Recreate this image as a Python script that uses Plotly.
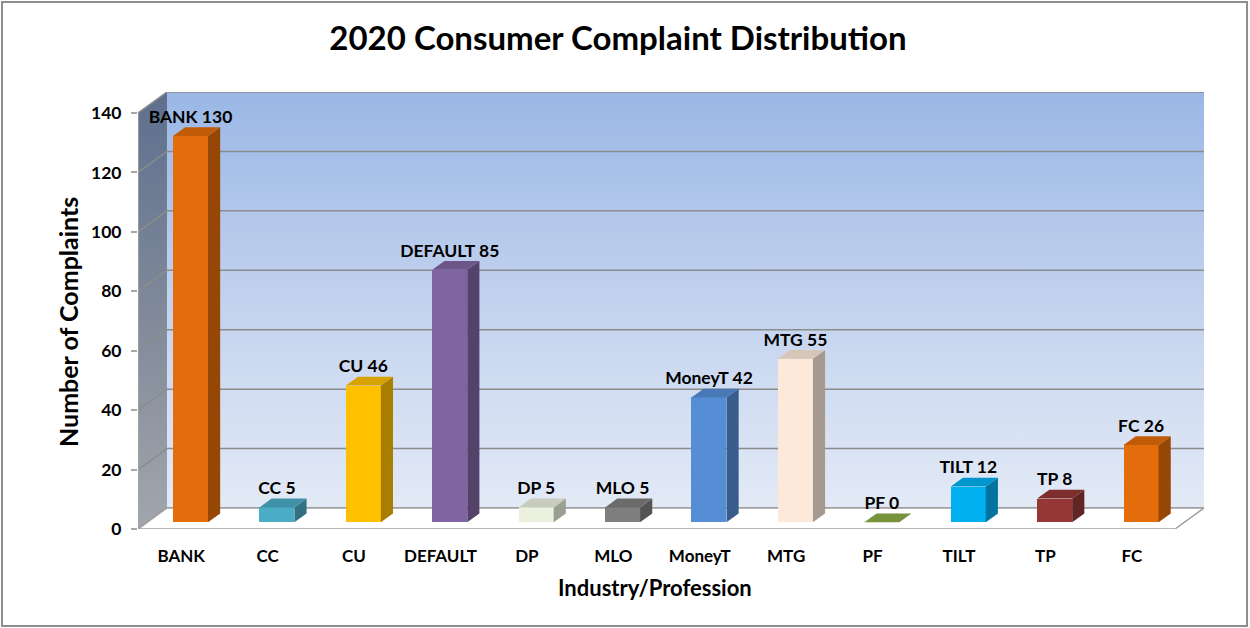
import plotly.graph_objects as go

# ---------------- data ----------------
categories = ["BANK", "CC", "CU", "DEFAULT", "DP", "MLO", "MoneyT", "MTG", "PF", "TILT", "TP", "FC"]
complaints = [130, 5, 46, 85, 5, 5, 42, 55, 0, 12, 8, 26]
bar_colors = ["#E46C0A", "#4BACC6", "#FFC000", "#8064A2", "#EBF1DE", "#7F7F7F",
              "#558ED5", "#FDE9D9", "#77933C", "#00B0F0", "#953735", "#E46C0A"]
y_ticks = [0, 20, 40, 60, 80, 100, 120, 140]

title_text = "2020 Consumer Complaint Distribution"
x_title = "Industry/Profession"
y_title = "Number of Complaints"

# ---------------- geometry / style ----------------
W, H = 1250, 628
L, R, T, B = 138, 46, 92, 99
PW, PH = W - L - R, H - T - B

DX = 0.3354          # wall depth in category units
DY = 7.07            # wall depth in value units
YMAX = y_ticks[-1]
N = len(categories)
X0, X1 = -0.5, N - 0.5
F1, F2 = 0.32, 0.74  # bar depth span (fraction of wall depth)
BW = 0.405           # bar width in category units

FONT = "Lato"
GRID = "#8C8C8C"


def shade(hexc, k):
    h = hexc.lstrip("#")
    r, g, b = (int(h[i:i + 2], 16) for i in (0, 2, 4))
    return "rgb(%d,%d,%d)" % (r * k, g * k, b * k)


def px_x(px):
    return (px - L) / PW


def px_y(py):
    return (H - B - py) / PH


fig = go.Figure()

# back wall (gradient)
fig.add_trace(go.Scatter(
    x=[X0 + DX, X1 + DX, X1 + DX, X0 + DX, X0 + DX],
    y=[DY, DY, YMAX + DY, YMAX + DY, DY],
    mode="lines", line=dict(width=0), fill="toself",
    fillgradient=dict(type="vertical",
                      colorscale=[[0, "#E3EAF6"], [0.5, "#C2D2EE"], [1, "#9AB7E5"]]),
    hoverinfo="skip", showlegend=False))

# left side wall (gradient)
fig.add_trace(go.Scatter(
    x=[X0, X0 + DX, X0 + DX, X0, X0],
    y=[0, DY, YMAX + DY, YMAX, 0],
    mode="lines", line=dict(width=0), fill="toself",
    fillgradient=dict(type="vertical",
                      colorscale=[[0, "#A2A6AD"], [0.5, "#7F8999"], [1, "#5E6F8E"]]),
    hoverinfo="skip", showlegend=False))

# gridlines on walls
gx, gy = [], []
for v in y_ticks:
    gx += [X0, X0 + DX, X1 + DX, None]
    gy += [v, v + DY, v + DY, None]
fig.add_trace(go.Scatter(x=gx, y=gy, mode="lines",
                         line=dict(color=GRID, width=1.5),
                         hoverinfo="skip", showlegend=False))

# floor
fig.add_trace(go.Scatter(
    x=[X0, X1, X1 + DX, X0 + DX, X0],
    y=[0, 0, DY, DY, 0],
    mode="lines", line=dict(color="#A0A0A0", width=1.5), fill="toself",
    fillcolor="#FFFFFF", hoverinfo="skip", showlegend=False))

# front axis edge
fig.add_trace(go.Scatter(x=[X0, X0], y=[0, YMAX], mode="lines",
                         line=dict(color="#A6A6A6", width=1.5),
                         hoverinfo="skip", showlegend=False))

# ---------- bars (overlay subplot, so they sit above the walls) ----------
xs = [i + F1 * DX for i in range(N)]
fig.add_trace(go.Bar(
    x=xs, y=complaints, base=[F1 * DY] * N, width=BW,
    marker=dict(color=bar_colors, line=dict(width=0)),
    xaxis="x2", yaxis="y2", showlegend=False,
    hovertext=categories, hoverinfo="text+y"))

ddx, ddy = (F2 - F1) * DX, (F2 - F1) * DY
for i, (v, c) in enumerate(zip(complaints, bar_colors)):
    xl, xr = xs[i] - BW / 2, xs[i] + BW / 2
    yb, yt = F1 * DY, v + F1 * DY
    if v > 0:
        fig.add_trace(go.Scatter(
            x=[xr, xr + ddx, xr + ddx, xr, xr],
            y=[yb, yb + ddy, yt + ddy, yt, yb],
            mode="lines", line=dict(width=0), fill="toself",
            fillcolor=shade(c, 0.66), xaxis="x2", yaxis="y2",
            hoverinfo="skip", showlegend=False))
    topc = shade(c, 0.85) if v > 0 else c
    fig.add_trace(go.Scatter(
        x=[xl, xr, xr + ddx, xl + ddx, xl],
        y=[yt, yt, yt + ddy, yt + ddy, yt],
        mode="lines", line=dict(width=0), fill="toself",
        fillcolor=topc, xaxis="x2", yaxis="y2",
        hoverinfo="skip", showlegend=False))

# data labels
fig.add_trace(go.Scatter(
    x=xs, y=[v + F2 * DY for v in complaints],
    text=[f"{c} {v}" for c, v in zip(categories, complaints)],
    mode="text", textposition="top center",
    textfont=dict(family=FONT, size=17.5, color="#000000", weight="bold"),
    xaxis="x2", yaxis="y2", hoverinfo="skip", showlegend=False))

xr_ = [X0, X1 + DX]
yr_ = [0, YMAX + DY]

fig.update_layout(
    width=W, height=H,
    margin=dict(l=L, r=R, t=T, b=B, pad=0),
    paper_bgcolor="#FFFFFF", plot_bgcolor="rgba(0,0,0,0)",
    font=dict(family=FONT, color="#000000"),
    title=dict(text=title_text, xref="container", yref="container",
               x=618 / W, y=1 - 38 / H, xanchor="center", yanchor="middle",
               font=dict(family=FONT, size=33, color="#000000", weight="bold")),
    xaxis=dict(range=xr_, tickvals=list(range(N)), ticktext=categories,
               showgrid=False, zeroline=False, showline=False,
               ticks="outside", ticklen=12, tickcolor="rgba(0,0,0,0)",
               tickfont=dict(family=FONT, size=17, color="#000000", weight="bold"),
               fixedrange=True),
    yaxis=dict(range=yr_, tickvals=y_ticks, showgrid=False, zeroline=False,
               showline=False, ticks="outside", ticklen=6, tickwidth=1.5,
               tickcolor="#A6A6A6", ticklabelstandoff=6,
               tickfont=dict(family=FONT, size=17.5, color="#000000", weight="bold"),
               fixedrange=True),
    xaxis2=dict(range=xr_, overlaying="x", visible=False, fixedrange=True),
    yaxis2=dict(range=yr_, overlaying="y", visible=False, fixedrange=True),
    bargap=0,
    annotations=[
        dict(text=y_title, xref="paper", yref="paper", x=px_x(68), y=px_y(322),
             xanchor="center", yanchor="middle", textangle=-90, showarrow=False,
             font=dict(family=FONT, size=25, color="#000000", weight="bold")),
        dict(text=x_title, xref="paper", yref="paper", x=px_x(655), y=px_y(587),
             xanchor="center", yanchor="middle", showarrow=False,
             font=dict(family=FONT, size=22, color="#000000", weight="bold")),
    ],
    shapes=[dict(type="rect", xref="paper", yref="paper",
                 x0=px_x(2), x1=px_x(1247), y0=px_y(626), y1=px_y(2),
                 line=dict(color="#8E8E8E", width=2), fillcolor="rgba(0,0,0,0)",
                 layer="below")],
    showlegend=False,
)

fig.write_html("out.html", include_plotlyjs=True,
               config={"displayModeBar": False},
               post_script="document.body.style.margin='0';document.body.style.overflow='hidden';")
